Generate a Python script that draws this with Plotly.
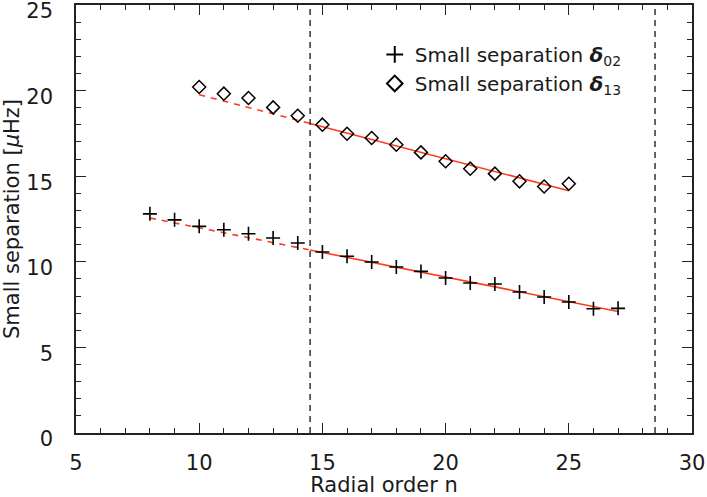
import plotly.graph_objects as go

# ---- data ----
n02 = [8, 9, 10, 11, 12, 13, 14, 15, 16, 17, 18, 19, 20, 21, 22, 23, 24, 25, 26, 27]
d02 = [12.8, 12.45, 12.07, 11.87, 11.64, 11.39, 11.1, 10.57, 10.32, 9.99, 9.70, 9.44,
       9.05, 8.76, 8.70, 8.24, 7.94, 7.65, 7.26, 7.28]

n13 = [10, 11, 12, 13, 14, 15, 16, 17, 18, 19, 20, 21, 22, 23, 24, 25]
d13 = [20.21, 19.82, 19.57, 19.02, 18.53, 18.01, 17.48, 17.23, 16.84, 16.39,
       15.87, 15.44, 15.15, 14.70, 14.40, 14.56]

# linear fits (endpoints); split at the boundary
fit02_dash_n = [8, 14.5]
fit02_dash_y = [12.56, 10.69]
fit02_solid_n = [14.5, 27]
fit02_solid_y = [10.69, 7.10]

fit13_dash_n = [10, 14.5]
fit13_dash_y = [19.76, 18.08]
fit13_solid_n = [14.5, 25]
fit13_solid_y = [18.08, 14.15]

boundaries = [14.5, 28.5]

x_ticks = [5, 10, 15, 20, 25, 30]
y_ticks = [0, 5, 10, 15, 20, 25]

RED = "#ff3a1a"
FONT = "DejaVu Sans"
TXT = "#1a1a1a"

fig = go.Figure()

for xs, ys, dash in [(fit02_dash_n, fit02_dash_y, "6px,6px"),
                     (fit02_solid_n, fit02_solid_y, "solid"),
                     (fit13_dash_n, fit13_dash_y, "6px,6px"),
                     (fit13_solid_n, fit13_solid_y, "solid")]:
    fig.add_trace(go.Scatter(x=xs, y=ys, mode="lines",
                             line=dict(color=RED, width=1.6, dash=dash),
                             showlegend=False, hoverinfo="skip"))

fig.add_trace(go.Scatter(
    x=n02, y=d02, mode="markers",
    marker=dict(symbol="cross-thin", size=10, color="black",
                line=dict(color="black", width=1.6)),
    name="Small separation <b><i>δ</i></b><sub>02</sub>"))

fig.add_trace(go.Scatter(
    x=n13, y=d13, mode="markers",
    marker=dict(symbol="diamond-open", size=10, color="black",
                line=dict(color="black", width=1.5)),
    name="Small separation <b><i>δ</i></b><sub>13</sub>"))

for b in boundaries:
    fig.add_vline(x=b, line=dict(color="black", width=1.2, dash="6px,5px"))

axis_common = dict(
    showline=True, linecolor="#222", linewidth=1.5, mirror="ticks",
    ticks="inside", ticklen=10, tickwidth=1.2, tickcolor="#222",
    showgrid=False, zeroline=False, ticklabeloverflow="allow", automargin=False,
    tickfont=dict(family=FONT, size=21, color=TXT),
    minor=dict(ticks="inside", ticklen=5, dtick=1, tickwidth=1.1, tickcolor="#222", showgrid=False),
)

fig.update_xaxes(range=[5, 30], tickvals=x_ticks, ticklabelstandoff=10, **axis_common,
                 title=dict(text="Radial order n", font=dict(family=FONT, size=21, color=TXT), standoff=4))
fig.update_yaxes(range=[0, 25], tickvals=y_ticks, ticklabelstandoff=17, ticklabelshift=6, **axis_common,
                 title=dict(text="Small separation [<i>μ</i>Hz]", font=dict(family=FONT, size=21, color=TXT), standoff=4))

fig.update_layout(
    width=707, height=497,
    margin=dict(l=76, r=15, t=5, b=64),
    paper_bgcolor="white", plot_bgcolor="white",
    font=dict(family=FONT, color=TXT),
    legend=dict(x=0.485, y=0.93, xanchor="left", yanchor="top",
                bgcolor="rgba(0,0,0,0)", font=dict(family=FONT, size=20, color=TXT),
                tracegroupgap=0, itemsizing="constant"),
)

fig.write_html("out.html")
